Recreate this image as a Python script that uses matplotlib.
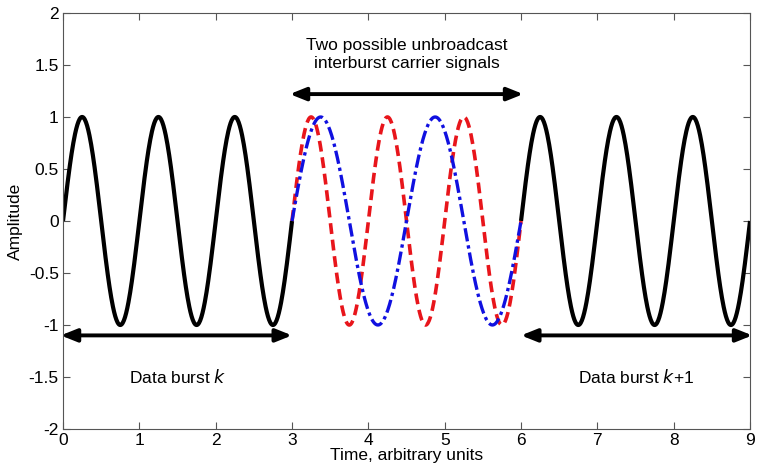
import numpy as np
import matplotlib
matplotlib.use("Agg")
import matplotlib.pyplot as plt

plt.rcParams['font.family'] = ['Liberation Sans', 'DejaVu Sans']

# Signal parameters
burst_segments = [(0.0, 3.0), (6.0, 9.0)]   # black data bursts
burst_period = 1.0
gap_segment = (3.0, 6.0)
red_period = 1.0       # red dashed carrier
blue_period = 1.5      # blue dash-dot carrier
amplitude = 1.0

xticks = [0, 1, 2, 3, 4, 5, 6, 7, 8, 9]
yticks = [-2, -1.5, -1, -0.5, 0, 0.5, 1, 1.5, 2]
ytick_labels = ['-2', '-1.5', '-1', '-0.5', '0', '0.5', '1', '1.5', '2']

FS = 12.5

fig = plt.figure(figsize=(7.62, 4.68), dpi=100)
ax = fig.add_axes([0.0827, 0.0833, 0.9016, 0.889])

for (a, b) in burst_segments:
    t = np.linspace(a, b, 400)
    ax.plot(t, amplitude * np.sin(2 * np.pi * t / burst_period), color='black', lw=3.0,
            solid_capstyle='butt')

t = np.linspace(gap_segment[0], gap_segment[1], 400)
ax.plot(t, amplitude * np.sin(2 * np.pi * (t - gap_segment[0]) / red_period), color='#e8151b',
        lw=2.6, linestyle=(0, (3, 1.6)))
ax.plot(t, amplitude * np.sin(2 * np.pi * (t - gap_segment[0]) / blue_period), color='#1010e0',
        lw=2.4, linestyle=(0, (4, 1.2, 1, 1.2)))

arrow_kw = dict(arrowstyle='<|-|>,head_length=0.8,head_width=0.32', color='black', lw=2.8,
                shrinkA=0, shrinkB=0, mutation_scale=12)
ax.annotate('', xy=(-0.03, -1.1), xytext=(3.0, -1.1), arrowprops=arrow_kw, annotation_clip=False)
ax.annotate('', xy=(6.0, -1.1), xytext=(9.03, -1.1), arrowprops=arrow_kw, annotation_clip=False)
ax.annotate('', xy=(2.97, 1.22), xytext=(6.03, 1.22), arrowprops=arrow_kw, annotation_clip=False)

ax.text(4.5, 1.6, 'Two possible unbroadcast\ninterburst carrier signals', ha='center',
        va='center', fontsize=FS, linespacing=1.2)
ax.text(1.5, -1.5, 'Data burst $\\it{k}$', ha='center', va='center', fontsize=FS)
ax.text(7.5, -1.5, 'Data burst $\\it{k}$+1', ha='center', va='center', fontsize=FS)

ax.set_xlim(0, 9)
ax.set_ylim(-2, 2)
ax.set_xticks(xticks)
ax.set_yticks(yticks)
ax.set_yticklabels(ytick_labels)
ax.tick_params(direction='in', top=True, right=True, length=5, labelsize=FS, color='#555555',
               pad=3)
for s in ax.spines.values():
    s.set_color('#555555')
ax.set_xlabel('Time, arbitrary units', fontsize=FS, labelpad=0)
ax.set_ylabel('Amplitude', fontsize=FS, labelpad=4)

fig.savefig('out.png', dpi=100)
